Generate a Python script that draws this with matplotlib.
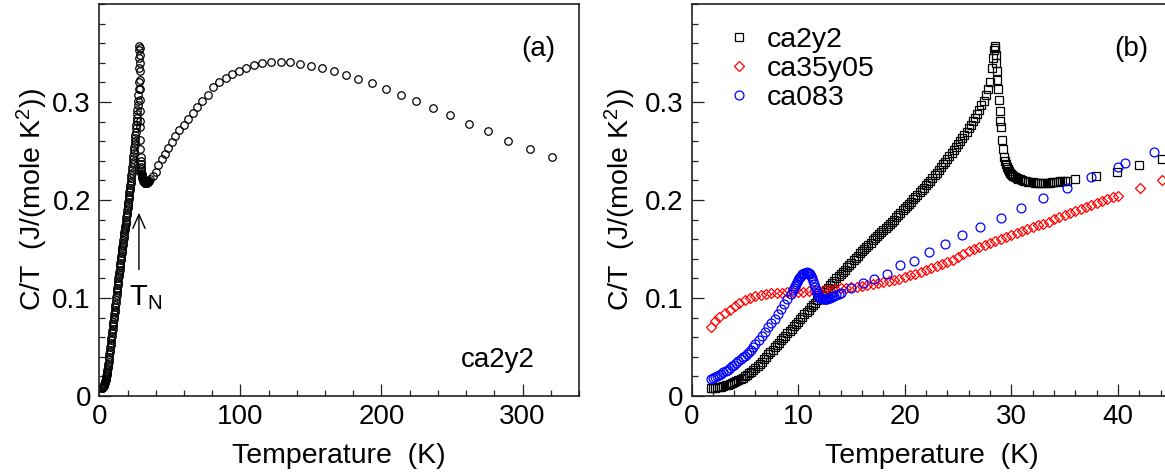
import matplotlib
matplotlib.use("Agg")
import matplotlib.pyplot as plt
from matplotlib.ticker import MultipleLocator, FuncFormatter

plt.rcParams['font.family'] = ['Liberation Sans', 'DejaVu Sans']
plt.rcParams['mathtext.default'] = 'regular'
plt.rcParams['font.size'] = 20

# ---- ca2y2: specific heat C/T (J/(mole K^2)) vs temperature (K) ----
ca2y2_T = [
    1.8, 2.0, 2.2, 2.4, 2.6, 2.8, 3.0, 3.2, 3.4, 3.6, 3.8, 4.0, 4.2, 4.4, 4.6, 4.8,
    5.0, 5.2, 5.4, 5.6, 5.8, 6.0, 6.2, 6.4, 6.6, 6.8, 7.0, 7.2, 7.4, 7.6, 7.8, 8.0,
    8.2, 8.4, 8.6, 8.8, 9.0, 9.2, 9.4, 9.6, 9.8, 10.0, 10.2, 10.4, 10.6, 10.8, 11.0,
    11.2, 11.4, 11.6, 11.8, 12.0, 12.2, 12.4, 12.6, 12.8, 13.0, 13.2, 13.4, 13.6,
    13.8, 14.0, 14.2, 14.4, 14.6, 14.8, 15.0, 15.2, 15.4, 15.6, 15.8, 16.0, 16.2,
    16.4, 16.6, 16.8, 17.0, 17.2, 17.4, 17.6, 17.8, 18.0, 18.2, 18.4, 18.6, 18.8,
    19.0, 19.2, 19.4, 19.6, 19.8, 20.0, 20.2, 20.4, 20.6, 20.8, 21.0, 21.2, 21.4,
    21.6, 21.8, 22.0, 22.2, 22.4, 22.6, 22.8, 23.0, 23.2, 23.4, 23.6, 23.8, 24.0,
    24.2, 24.4, 24.6, 24.8, 25.0, 25.2, 25.4, 25.6, 25.8, 26.0, 26.2, 26.4, 26.6,
    26.8, 27.0, 27.2, 27.4, 27.6, 27.8, 28.0, 28.2, 28.3, 28.4, 28.45,
    28.5, 28.55, 28.6, 28.65, 28.7, 28.75, 28.85, 28.9, 28.95, 29.0, 29.1, 29.2,
    29.3, 29.4, 29.5, 29.6, 29.7, 29.8, 29.9, 30.0, 30.1, 30.2, 30.35, 30.5, 30.65,
    30.8, 31.0, 31.2, 31.4, 31.6, 31.8, 32.0, 32.2, 32.4, 32.6, 32.8, 33.0, 33.2,
    33.4, 33.6, 33.8, 34.0, 34.2, 34.4, 34.6, 34.8, 35.0, 35.2,
    36.0, 37.9, 39.9, 41.95, 44.1, 46.4, 48.8, 51.3, 54.0, 56.8, 59.7, 62.8, 66.1,
    69.5, 73.1, 76.9, 80.9, 85.1, 89.5, 94.2, 99.1, 104.2, 109.6, 115.3, 121.5,
    128.5, 135.5, 142.3, 149.7, 157.8, 166.2, 174.6, 183.2, 193.1, 203.3, 213.9,
    224.8, 236.6, 248.6, 261.7, 275.3, 290.0, 305.2, 320.9,
]
ca2y2_CT = [
    0.0080, 0.0083, 0.0086, 0.0089, 0.0092, 0.0096, 0.0100, 0.0108, 0.0116, 0.0124,
    0.0132, 0.0140, 0.0152, 0.0164, 0.0176, 0.0188, 0.0200, 0.0216, 0.0232, 0.0250,
    0.0270, 0.0290, 0.0310, 0.0330, 0.0352, 0.0376, 0.0400, 0.0424, 0.0448, 0.0472,
    0.0496, 0.0520, 0.0544, 0.0568, 0.0592, 0.0616, 0.0640, 0.0664, 0.0688, 0.0712,
    0.0736, 0.0760, 0.0784, 0.0808, 0.0832, 0.0856, 0.0880, 0.0904, 0.0928, 0.0954,
    0.0982, 0.1010, 0.1034, 0.1058, 0.1082, 0.1106, 0.1130, 0.1154, 0.1178, 0.1202,
    0.1226, 0.1250, 0.1270, 0.1290, 0.1312, 0.1336, 0.1360, 0.1384, 0.1408, 0.1432,
    0.1456, 0.1480, 0.1500, 0.1520, 0.1542, 0.1566, 0.1590, 0.1610, 0.1630, 0.1650,
    0.1670, 0.1690, 0.1714, 0.1738, 0.1760, 0.1780, 0.1800, 0.1824, 0.1848, 0.1872,
    0.1896, 0.1920, 0.1940, 0.1960, 0.1982, 0.2006, 0.2030, 0.2054, 0.2078, 0.2102,
    0.2126, 0.2150, 0.2174, 0.2198, 0.2224, 0.2252, 0.2280, 0.2308, 0.2336, 0.2364,
    0.2392, 0.2420, 0.2452, 0.2484, 0.2514, 0.2542, 0.2570, 0.2602, 0.2634, 0.2666,
    0.2698, 0.2730, 0.2766, 0.2802, 0.2840, 0.2880, 0.2920, 0.2966, 0.3014, 0.3070,
    0.3130, 0.3200, 0.3350, 0.3450, 0.3535, 0.3570,
    0.3550, 0.3480, 0.3400, 0.3320, 0.3220, 0.3130, 0.3020, 0.2910, 0.2810, 0.2740,
    0.2610, 0.2520, 0.2437, 0.2400, 0.2370, 0.2340, 0.2315, 0.2295, 0.2280, 0.2265,
    0.2255, 0.2245, 0.2235, 0.2225, 0.2217, 0.2210, 0.2202, 0.2196, 0.2190, 0.2186,
    0.2182, 0.2180, 0.2178, 0.2176, 0.2175, 0.2175, 0.2175, 0.2176, 0.2177, 0.2178,
    0.2180, 0.2182, 0.2184, 0.2186, 0.2189, 0.2192, 0.2195, 0.2198,
    0.2210, 0.2250, 0.2290, 0.2355, 0.2415, 0.2470, 0.2530, 0.2590, 0.2650, 0.2710,
    0.2770, 0.2830, 0.2890, 0.2950, 0.3010, 0.3070, 0.3150, 0.3200, 0.3250, 0.3290,
    0.3320, 0.3350, 0.3380, 0.3400, 0.3405, 0.3410, 0.3405, 0.3390, 0.3370, 0.3350,
    0.3320, 0.3280, 0.3230, 0.3190, 0.3130, 0.3070, 0.3010, 0.2935, 0.2865, 0.2780,
    0.2705, 0.2605, 0.2520, 0.2435,
]

# ---- ca35y05 ----
ca35y05_T = [
    1.8, 2.2, 2.6, 3.1, 3.6, 4.1, 4.5, 5.0, 5.5, 6.0, 6.5, 7.0, 7.5, 8.0, 8.5, 9.0,
    9.5, 10.0, 10.5, 11.0, 11.5, 12.0, 12.5, 13.0, 13.5, 14.0, 14.5, 15.0, 15.5,
    16.0, 16.5, 17.0, 17.5, 18.0, 18.5, 19.0, 19.5, 20.0, 20.5, 21.0, 21.5, 22.0,
    22.5, 23.0, 23.5, 24.0, 24.5, 25.0, 25.5, 26.0, 26.5, 27.0, 27.5, 28.0, 28.5,
    29.0, 29.5, 30.0, 30.5, 31.0, 31.5, 32.0, 32.5, 33.0, 33.5, 34.0, 34.5, 35.0,
    35.5, 36.0, 36.5, 37.0, 37.5, 38.0, 38.5, 39.0, 39.5, 40.0, 42.1, 44.1,
]
ca35y05_CT = [
    0.070, 0.077, 0.081, 0.085, 0.088, 0.092, 0.095, 0.098, 0.100, 0.102, 0.103,
    0.104, 0.105, 0.105, 0.105, 0.106, 0.106, 0.106, 0.106, 0.107, 0.107, 0.107,
    0.108, 0.108, 0.109, 0.110, 0.110, 0.111, 0.111, 0.112, 0.113, 0.114, 0.115,
    0.116, 0.117, 0.118, 0.119, 0.121, 0.123, 0.125, 0.127, 0.129, 0.131, 0.133,
    0.135, 0.137, 0.139, 0.142, 0.145, 0.148, 0.150, 0.152, 0.154, 0.156, 0.158,
    0.160, 0.162, 0.164, 0.166, 0.168, 0.170, 0.172, 0.174, 0.176, 0.178, 0.181,
    0.183, 0.185, 0.187, 0.189, 0.191, 0.193, 0.195, 0.197, 0.199, 0.201, 0.203,
    0.204, 0.212, 0.220,
]

# ---- ca083 ----
ca083_T = [
    1.8, 2.0, 2.2, 2.4, 2.6, 2.8, 3.0, 3.2, 3.4, 3.6, 3.8, 4.0, 4.2, 4.4, 4.6, 4.8,
    5.0, 5.2, 5.4, 5.6, 5.8, 6.0, 6.3, 6.6, 6.9, 7.2, 7.5, 7.8, 8.1, 8.4, 8.7, 9.0,
    9.3, 9.5, 9.6, 9.7, 9.8, 9.9, 10.0, 10.1, 10.2, 10.3, 10.4, 10.5, 10.6, 10.7,
    10.8, 10.9, 11.0, 11.1, 11.2, 11.3, 11.4, 11.5, 11.6, 11.7, 11.8, 11.9, 12.0,
    12.1, 12.2, 12.3, 12.4, 12.5, 12.6, 12.7, 12.8, 12.9, 13.0, 13.2, 13.4, 13.6,
    13.8, 14.0, 15.0, 16.05, 17.15, 18.3, 19.55, 20.9, 22.3, 23.8, 25.35, 27.1,
    29.0, 30.9, 32.95, 35.2, 37.5, 40.0, 40.7, 43.4,
]
ca083_CT = [
    0.0175, 0.0180, 0.0190, 0.0200, 0.0210, 0.0225, 0.0240, 0.0255, 0.0270, 0.0290,
    0.0305, 0.0320, 0.0340, 0.0360, 0.0375, 0.0395, 0.0410, 0.0430, 0.0450, 0.0470,
    0.0500, 0.0530, 0.0570, 0.0610, 0.0650, 0.0700, 0.0740, 0.0790, 0.0840, 0.0890,
    0.0940, 0.0990, 0.1040, 0.1080, 0.1100, 0.1120, 0.1140, 0.1160, 0.1180, 0.1200,
    0.1210, 0.1225, 0.1240, 0.1250, 0.1258, 0.1260, 0.1262, 0.1260, 0.1255, 0.1240,
    0.1220, 0.1200, 0.1170, 0.1140, 0.1110, 0.1080, 0.1050, 0.1030, 0.1010, 0.1000,
    0.0995, 0.0990, 0.0988, 0.0988, 0.0990, 0.0993, 0.0997, 0.1000, 0.1004, 0.1012,
    0.1020, 0.1030, 0.1040, 0.1050, 0.1100, 0.1155, 0.1190, 0.1250, 0.1340, 0.1375,
    0.1470, 0.1550, 0.1640, 0.1725, 0.1815, 0.1915, 0.2020, 0.2125, 0.2235, 0.2340,
    0.2375, 0.2490,
]

W, H = 1165, 474
fig = plt.figure(figsize=(W / 100, H / 100), dpi=100)

ax_a = fig.add_axes([99.3 / W, 78 / H, 479.7 / W, 392 / H])
ax_b = fig.add_axes([691.5 / W, 78 / H, 479.7 / W, 392 / H])

spine_col = '#222222'
ylabel = 'C/T  (J/(mole K$^{2}$))'
yfmt = FuncFormatter(lambda v, p: '0' if abs(v) < 1e-9 else f'{v:.1f}')

for ax in (ax_a, ax_b):
    for s in ax.spines.values():
        s.set_linewidth(1.2)
        s.set_color(spine_col)
    ax.tick_params(which='both', direction='in', top=False, right=False,
                   colors=spine_col, labelcolor='black', labelsize=20, pad=6)
    ax.tick_params(which='major', length=8.6, width=0.9)
    ax.tick_params(which='minor', length=4.2, width=0.9)
    ax.set_ylim(0, 0.4)
    ax.set_yticks([0, 0.1, 0.2, 0.3])
    ax.yaxis.set_minor_locator(MultipleLocator(0.02))
    ax.yaxis.set_major_formatter(yfmt)
    ax.set_xlabel('Temperature  (K)', fontsize=20.5)
    ax.set_ylabel(ylabel, fontsize=20.5)
    ax.xaxis.label.set_verticalalignment('center')
    ax.yaxis.label.set_verticalalignment('center')

# (a) full temperature range
ax_a.plot(ca2y2_T, ca2y2_CT, linestyle='none', marker='o', ms=5.4,
          mfc='none', mec='black', mew=0.9)
ax_a.set_xlim(0, 340)
ax_a.set_xticks([0, 100, 200, 300])
ax_a.xaxis.set_minor_locator(MultipleLocator(20))
ax_a.xaxis.set_label_coords(0.5, -0.153)
ax_a.yaxis.set_label_coords(-0.140, 0.5)
ax_a.annotate('', xy=(28.1, 0.187), xytext=(28.1, 0.129),
              arrowprops=dict(arrowstyle='->,head_length=0.5,head_width=0.22',
                              color='black', lw=1.0, shrinkA=0, shrinkB=0,
                              mutation_scale=20))
ax_a.text(21.0, 0.093, 'T$_N$', fontsize=21, ha='left', va='baseline')
ax_a.text(0.9145, 0.885, '(a)', transform=ax_a.transAxes, fontsize=20,
          ha='center', va='center')
ax_a.text(0.831, 0.0747, 'ca2y2', transform=ax_a.transAxes, fontsize=20,
          ha='center', va='baseline')

# (b) low temperature region of three samples
ax_b.plot(ca2y2_T, ca2y2_CT, linestyle='none', marker='s', ms=5.8,
          mfc='none', mec='black', mew=0.9, label='ca2y2')
ax_b.plot(ca35y05_T, ca35y05_CT, linestyle='none', marker='D', ms=5.0,
          mfc='none', mec='#ff0000', mew=0.9, label='ca35y05')
ax_b.plot(ca083_T, ca083_CT, linestyle='none', marker='o', ms=6.4,
          mfc='none', mec='#0000ff', mew=0.9, label='ca083')
ax_b.set_xlim(0, 45)
ax_b.set_xticks([0, 10, 20, 30, 40])
ax_b.xaxis.set_minor_locator(MultipleLocator(2))
ax_b.xaxis.set_label_coords(0.5, -0.153)
ax_b.yaxis.set_label_coords(-0.149, 0.5)
ax_b.text(0.916, 0.885, '(b)', transform=ax_b.transAxes, fontsize=20,
          ha='center', va='center')
ax_b.legend(loc='upper left', bbox_to_anchor=(0.0698, 0.941), frameon=False,
            borderpad=0, borderaxespad=0, handlelength=1.0, handletextpad=0.45,
            labelspacing=0.1, numpoints=1, fontsize=20.5)

fig.savefig('out.png', dpi=100)
